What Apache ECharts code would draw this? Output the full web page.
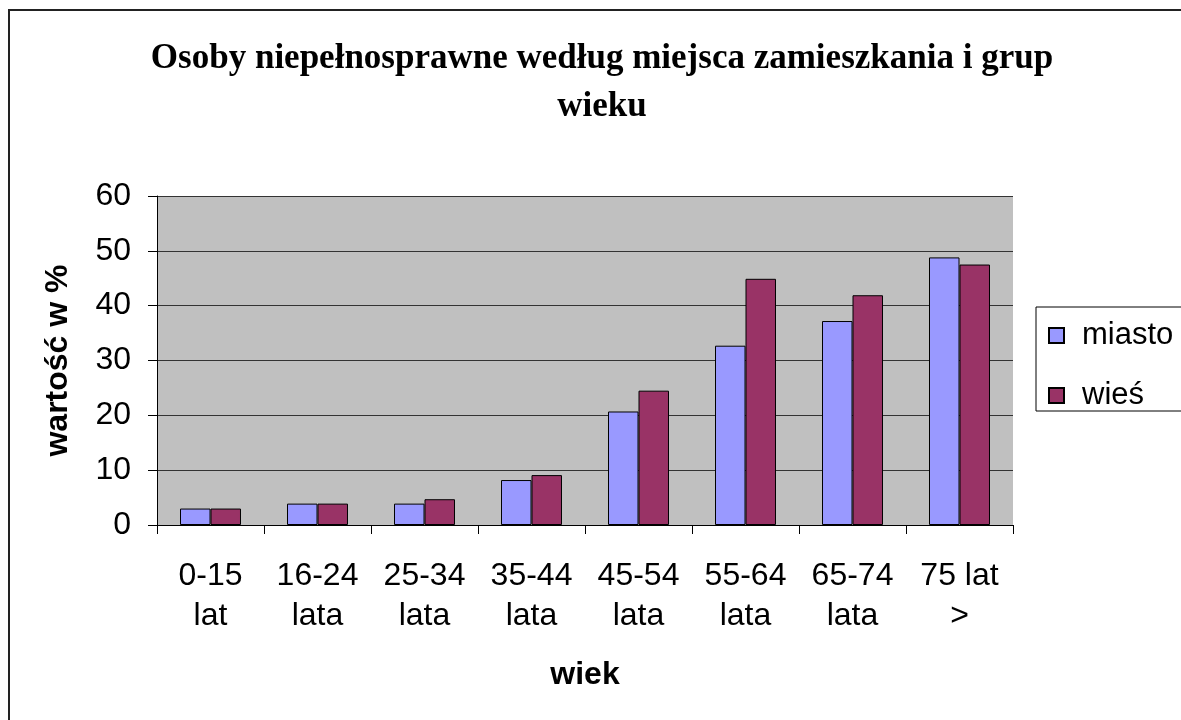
<!DOCTYPE html>
<html><head><meta charset="utf-8">
<script src="https://cdn.jsdelivr.net/npm/echarts@6/dist/echarts.min.js"></script>
<style>html,body{margin:0;padding:0;background:#fff}#c{width:1181px;height:720px}</style>
</head><body><div id="c"></div>
<script>
const categories = ['0-15\nlat','16-24\nlata','25-34\nlata','35-44\nlata','45-54\nlata','55-64\nlata','65-74\nlata','75 lat\n>'];
const miasto = [3.0, 3.9, 3.9, 8.2, 20.7, 32.7, 37.2, 48.8];
const wies = [3.0, 3.9, 4.7, 9.1, 24.5, 44.9, 41.9, 47.5];
const seriesNames = ['miasto', 'wieś'];
const titleLines = ['Osoby niepełnosprawne według miejsca zamieszkania i grup', 'wieku'];
const yTicks = {min: 0, max: 60, interval: 10};

const chart = echarts.init(document.getElementById('c'), null, {renderer: 'canvas'});
chart.setOption({
  animation: false,
  backgroundColor: '#fff',
  graphic: [
    {type: 'rect', shape: {x: 9, y: 10, width: 1200, height: 720}, style: {fill: 'none', stroke: '#222', lineWidth: 2}, z: 100},
    {type: 'text', x: 602, y: 35, style: {text: titleLines.join('\n'), font: 'bold 35px "Liberation Serif"', fill: '#000', textAlign: 'center', lineHeight: 48}}
  ],
  grid: {left: 157, right: 168, top: 196, bottom: 195, show: true, backgroundColor: '#c0c0c0', borderWidth: 0},
  legend: {
    data: seriesNames, orient: 'vertical', left: 1036, top: 307,
    padding: [13, 40, 0, 12], itemWidth: 15, itemHeight: 15, itemGap: 29,
    borderColor: '#000', borderWidth: 1, backgroundColor: '#fff',
    icon: 'rect',
    textStyle: {fontFamily: 'Liberation Sans', fontSize: 31, lineHeight: 31, color: '#000', padding: [0, 0, 0, 13]}
  },
  xAxis: {
    type: 'category', data: categories,
    axisLine: {lineStyle: {color: '#000', width: 1}},
    axisTick: {show: true, length: 9, lineStyle: {color: '#000'}},
    axisLabel: {color: '#000', fontFamily: 'Liberation Sans', fontSize: 32, lineHeight: 40, margin: 31, interval: 0},
    name: 'wiek', nameLocation: 'middle', nameGap: 134,
    nameTextStyle: {fontFamily: 'Liberation Sans', fontWeight: 'bold', fontSize: 32, color: '#000'}
  },
  yAxis: {
    type: 'value', min: yTicks.min, max: yTicks.max, interval: yTicks.interval,
    axisLine: {show: true, lineStyle: {color: '#000', width: 1}},
    axisTick: {show: true, length: 9, lineStyle: {color: '#000'}},
    axisLabel: {color: '#000', fontFamily: 'Liberation Sans', fontSize: 32, margin: 26},
    splitLine: {lineStyle: {color: '#333', width: 1}},
    name: 'wartość w %', nameLocation: 'middle', nameGap: 83, nameRotate: 90,
    nameTextStyle: {fontFamily: 'Liberation Sans', fontWeight: 'bold', fontSize: 32, color: '#000'}
  },
  series: [
    {name: seriesNames[0], type: 'bar', data: miasto, barGap: '0%', barCategoryGap: '43%',
     itemStyle: {color: '#9999ff', borderColor: '#000', borderWidth: 1}},
    {name: seriesNames[1], type: 'bar', data: wies, barGap: '0%', barCategoryGap: '43%',
     itemStyle: {color: '#993366', borderColor: '#000', borderWidth: 1}}
  ]
});
</script></body></html>
